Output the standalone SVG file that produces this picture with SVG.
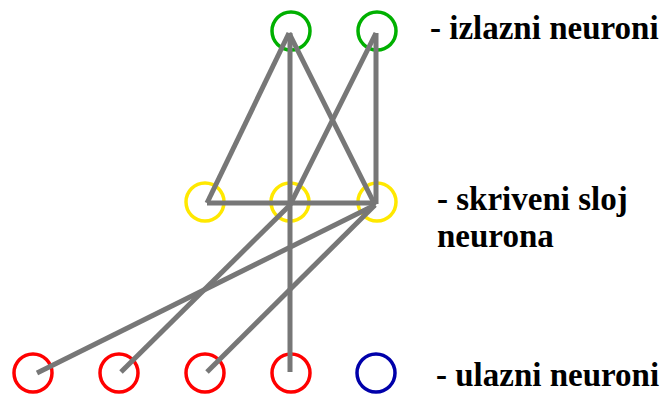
<svg xmlns="http://www.w3.org/2000/svg" width="664" height="394" viewBox="0 0 664 394">
<style>
.n{fill:none;stroke-width:3.5}
.g{stroke:#00b000}.y{stroke:#ffe800}.r{stroke:#ff0000}.b{stroke:#0000aa}
.c line{stroke:#777;stroke-width:5;stroke-linecap:butt}
.t{font-family:'Liberation Serif','DejaVu Serif',serif;font-weight:700;font-size:33px;fill:#000}
</style>
<rect width="664" height="394" fill="#fff"/>
<g id="g1"><circle class="n g" cx="291" cy="31" r="19"/></g>
<g id="g2"><circle class="n g" cx="377" cy="31" r="19"/></g>
<g id="y1"><circle class="n y" cx="205" cy="202" r="19"/></g>
<g id="y2"><circle class="n y" cx="290" cy="202" r="19"/></g>
<g id="y3"><circle class="n y" cx="377" cy="202" r="19"/></g>
<g id="r1"><circle class="n r" cx="33" cy="373" r="19"/></g>
<g id="r2"><circle class="n r" cx="119" cy="373" r="19"/></g>
<g id="r3"><circle class="n r" cx="205" cy="373" r="19"/></g>
<g id="r4"><circle class="n r" cx="291" cy="373" r="19"/></g>
<g id="b1"><circle class="n b" cx="376" cy="373" r="19"/></g>
<g class="c" id="connectors">
<line x1="289" y1="33" x2="207" y2="203"/>
<line x1="289" y1="33" x2="375" y2="205"/>
<line x1="290" y1="33" x2="290" y2="372"/>
<line x1="376" y1="33" x2="290" y2="205"/>
<line x1="376" y1="33" x2="376" y2="204"/>
<line x1="207" y1="203" x2="376" y2="203"/>
<line x1="290" y1="205" x2="121" y2="372"/>
<line x1="375" y1="205" x2="37" y2="373"/>
<line x1="375" y1="205" x2="207" y2="372"/>
</g>
<g id="labels" font-family="Liberation Serif, DejaVu Serif, serif">
<text class="t" x="430" y="39">- izlazni neuroni</text>
<text class="t" x="437" y="210">- skriveni sloj</text>
<text class="t" x="437" y="247">neurona</text>
<text class="t" x="436" y="386">- ulazni neuroni</text>
</g>
</svg>
